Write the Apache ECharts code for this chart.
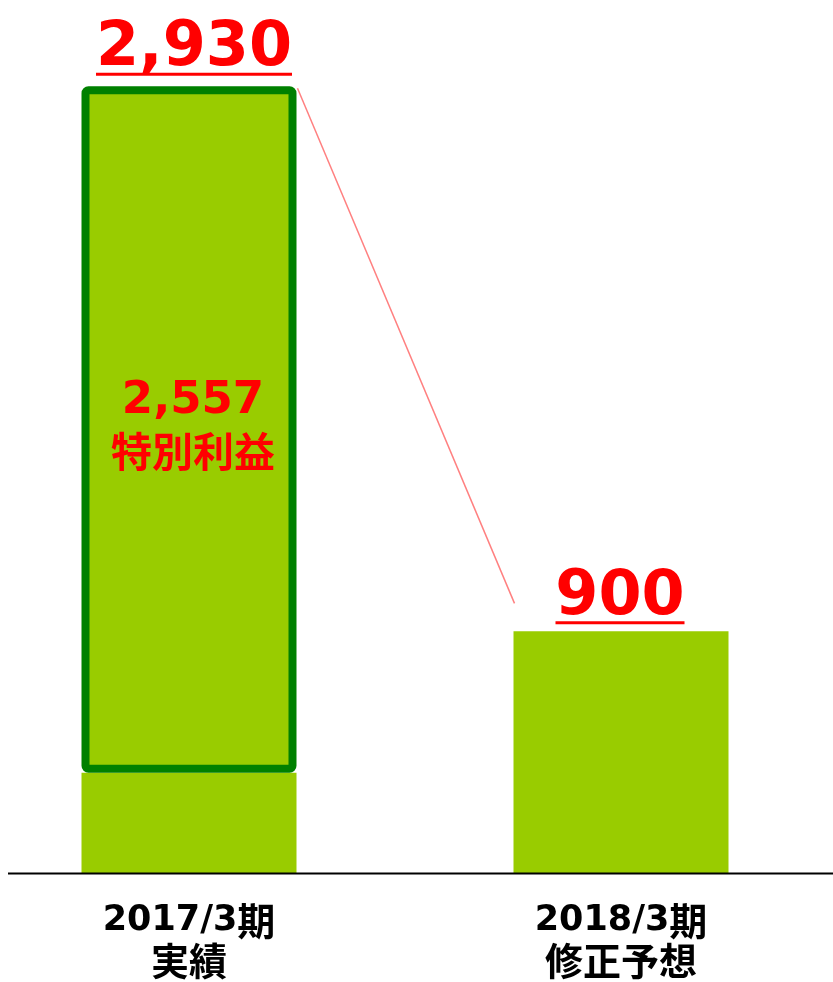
<!DOCTYPE html>
<html><head><meta charset="utf-8">
<script src="https://cdn.jsdelivr.net/npm/echarts@6/dist/echarts.min.js"></script>
<style>
html,body{margin:0;padding:0;background:#fff;overflow:hidden;width:833px;height:982px}
#c{position:absolute;left:-27px;top:0;width:864px;height:982px}
</style>
</head><body><div id="c"></div>
<script>
// ---- data ----
const categories = ['2017/3期\n実績', '2018/3期\n修正予想'];
const totals = [2930, 900];
const specialProfit = [2557, null];
const specialLabel = '特別利益';

// ---- styling ----
const RED = '#FF0000';
const BAR = '#99CC00';
const BORDER = '#008000';
const NUM_FONT = '"DejaVu Sans", "Noto Sans CJK JP"';
const CJK_FONT = '"Noto Sans CJK JP"';
const SHIFT = 27;            // canvas is shifted left by this many px
const topSize = 62;
const barW = 215;
const topDist = [8, 4.5];
const topOffsetX = [5, -1];

const fmt = v => v.toLocaleString('en-US');
const base = totals.map((t, i) => t - (specialProfit[i] || 0));

const mctx = document.createElement('canvas').getContext('2d');
function textW(text, size) { mctx.font = 'bold ' + size + 'px "DejaVu Sans"'; return mctx.measureText(text).width; }

const rich = {
  v: { fontFamily: NUM_FONT, fontWeight: 'bold', fontSize: topSize, color: RED, lineHeight: 42 }
};
totals.forEach((v, i) => {
  rich['u' + i] = { width: Math.round(textW(fmt(v), topSize)), height: 3, lineHeight: 8, backgroundColor: RED };
});

const CJK_RE = /[\u3000-\u9fff\uff00-\uffef]/;
function axisFmt(value) {
  return value.split('\n').map(line =>
    line.match(/[\u3000-\u9fff\uff00-\uffef]+|[^\u3000-\u9fff\uff00-\uffef]+/g)
      .map(run => (CJK_RE.test(run) ? '{c|' : '{d|') + run + '}').join('')
  ).join('\n');
}

const chart = echarts.init(document.getElementById('c'), null, { renderer: 'canvas' });
const option = {
  animation: false,
  grid: { left: 0, right: 0, top: 67.5, bottom: 109 },
  xAxis: {
    type: 'category', data: categories,
    axisLine: { show: false }, axisTick: { show: false },
    axisLabel: {
      margin: 28, formatter: axisFmt,
      rich: {
        d: { fontFamily: '"DejaVu Sans"', fontWeight: 'bold', fontSize: 35, color: '#000', lineHeight: 40 },
        c: { fontFamily: CJK_FONT, fontWeight: 'bold', fontSize: 38, color: '#000', lineHeight: 40 }
      }
    }
  },
  yAxis: { type: 'value', min: 0, max: 3000, show: false, splitLine: { show: false } },
  series: [
    { type: 'bar', stack: 'a', data: base, barWidth: barW, itemStyle: { color: BAR }, silent: true },
    {
      type: 'bar', stack: 'a', data: specialProfit, barWidth: barW, silent: true,
      itemStyle: { color: BAR, borderColor: BORDER, borderWidth: 8, borderRadius: 3 },
      label: {
        show: true, position: 'inside', offset: [4, -3],
        formatter: p => '{n|' + fmt(p.value) + '}\n{t|' + specialLabel + '}',
        rich: {
          n: { fontFamily: NUM_FONT, fontWeight: 'bold', fontSize: 45, color: RED, lineHeight: 50 },
          t: { fontFamily: CJK_FONT, fontWeight: 'bold', fontSize: 41, color: RED, lineHeight: 50 }
        }
      }
    },
    {
      type: 'bar', barGap: '-100%', barWidth: barW, z: 3, silent: true,
      itemStyle: { color: 'rgba(0,0,0,0)' },
      data: totals.map((v, i) => ({ value: v, label: { distance: topDist[i], offset: [topOffsetX[i], 0] } })),
      label: {
        show: true, position: 'top',
        formatter: p => '{v|' + fmt(p.value) + '}\n{u' + p.dataIndex + '|}',
        rich: rich
      }
    }
  ]
};
chart.setOption(option);

// baseline and connector, positioned through the chart's own scales
const p0 = chart.convertToPixel({ gridIndex: 0 }, [0, 0]);
const pTop1 = chart.convertToPixel({ gridIndex: 0 }, [0, totals[0]]);
const pTop2 = chart.convertToPixel({ gridIndex: 0 }, [1, totals[1]]);
chart.setOption({
  graphic: [
    { type: 'line', z: 10, silent: true, shape: { x1: 8 + SHIFT, y1: p0[1] + 0.5, x2: 833 + SHIFT, y2: p0[1] + 0.5 }, style: { stroke: '#000', lineWidth: 2 } },
    { type: 'line', z: 10, silent: true, shape: { x1: pTop1[0] + barW / 2 + 1, y1: pTop1[1] + 2, x2: pTop2[0] - barW / 2 + 1, y2: pTop2[1] - 28 }, style: { stroke: '#FF8080', lineWidth: 1.5 } }
  ]
});
</script></body></html>
